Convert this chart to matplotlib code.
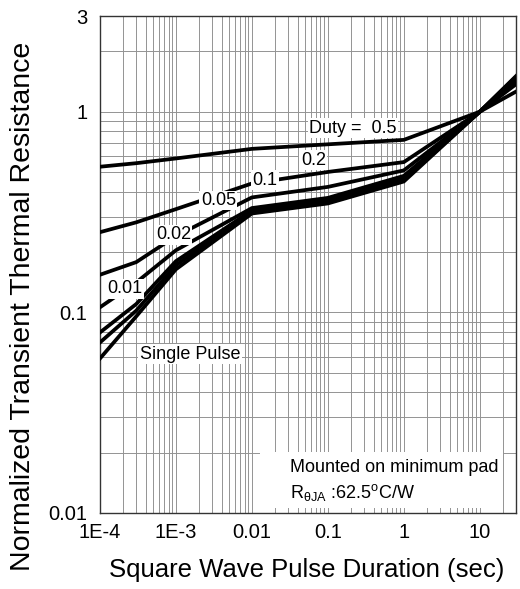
import matplotlib
matplotlib.use('Agg')
import matplotlib.pyplot as plt
from matplotlib.patches import Rectangle
from matplotlib.ticker import FixedLocator, LogLocator, NullFormatter, FixedFormatter

plt.rcParams['font.family'] = ['Liberation Sans', 'DejaVu Sans']
plt.rcParams['mathtext.fontset'] = 'custom'
plt.rcParams['mathtext.rm'] = 'Liberation Sans'
plt.rcParams['mathtext.it'] = 'Liberation Sans:italic'

# ---- data ----
pulse_sec = [1e-4, 3e-4, 1e-3, 1e-2, 1e-1, 1, 10, 30]
r_duty_05 = [0.532, 0.554, 0.585, 0.653, 0.688, 0.724, 1.0, 1.26]
r_duty_02 = [0.251, 0.281, 0.327, 0.439, 0.501, 0.561, 1.0, 1.37]
r_duty_01 = [0.154, 0.178, 0.240, 0.374, 0.422, 0.510, 1.0, 1.41]
r_duty_005 = [0.106, 0.141, 0.204, 0.331, 0.372, 0.479, 1.0, 1.445]
r_duty_002 = [0.0794, 0.110, 0.180, 0.322, 0.361, 0.465, 1.0, 1.47]
r_duty_001 = [0.0708, 0.102, 0.172, 0.316, 0.355, 0.457, 1.0, 1.49]
r_single = [0.0589, 0.0955, 0.164, 0.311, 0.349, 0.449, 1.0, 1.505]

x_tick_vals = [1e-4, 1e-3, 1e-2, 1e-1, 1, 10]
x_tick_labels = ['1E-4', '1E-3', '0.01', '0.1', '1', '10']
y_tick_vals = [0.01, 0.1, 1, 3]
y_tick_labels = ['0.01', '0.1', '1', '3']

curve_labels = ['Duty =  0.5', '0.2', '0.1', '0.05', '0.02', '0.01', 'Single Pulse']
label_x = [0.213, 0.0644, 0.0148, 3.62e-3, 9.27e-4, 2.13e-4, 1.53e-3]
label_y = [0.827, 0.572, 0.4545, 0.361, 0.244, 0.131, 0.0617]

# ---- figure ----
fig = plt.figure(figsize=(5.2, 5.89), dpi=100)
ax = fig.add_axes([100/520, 1-513/589, 416/520, 497/589])
ax.set_xscale('log')
ax.set_yscale('log')
ax.set_xlim(1e-4, 30)
ax.set_ylim(0.01, 3)

ax.xaxis.set_major_locator(FixedLocator(x_tick_vals))
ax.xaxis.set_major_formatter(FixedFormatter(x_tick_labels))
ax.xaxis.set_minor_locator(LogLocator(base=10, subs=[2, 3, 4, 5, 6, 7, 8, 9], numticks=50))
ax.xaxis.set_minor_formatter(NullFormatter())
ax.yaxis.set_major_locator(FixedLocator(y_tick_vals))
ax.yaxis.set_major_formatter(FixedFormatter(y_tick_labels))
ax.yaxis.set_minor_locator(LogLocator(base=10, subs=[2, 3, 4, 5, 6, 7, 8, 9], numticks=50))
ax.yaxis.set_minor_formatter(NullFormatter())

ax.tick_params(which='both', length=0, labelsize=14.5)
ax.tick_params(axis='y', pad=9)
ax.tick_params(axis='x', pad=7)
ax.set_axisbelow(True)
ax.grid(which='both', color='#939393', lw=0.7)
for s in ax.spines.values():
    s.set_color('#333333')
    s.set_linewidth(1.0)

for r in [r_duty_05, r_duty_02, r_duty_01, r_duty_005, r_duty_002, r_duty_001, r_single]:
    ax.plot(pulse_sec, r, color='black', lw=2.7, solid_joinstyle='miter', zorder=3)

for t, x, y in zip(curve_labels, label_x, label_y):
    ax.text(x, y, t, fontsize=13, ha='center', va='center', zorder=5,
            bbox=dict(facecolor='white', edgecolor='none', pad=1.0))

ax.add_patch(Rectangle((0.385, 0.01), 0.584, 0.113, transform=ax.transAxes,
                       facecolor='white', edgecolor='none', zorder=4))
ax.text(0.457, 0.083, 'Mounted on minimum pad', transform=ax.transAxes,
        fontsize=13, ha='left', va='baseline', zorder=5)
ax.text(0.457, 0.03, r'R$_{\mathregular{\theta JA}}$ :62.5$^{\mathregular{o}}$C/W',
        transform=ax.transAxes, fontsize=13, ha='left', va='baseline', zorder=5)

fig.text(0.044, 0.479, 'Normalized Transient Thermal Resistance', rotation=90,
         fontsize=20.5, ha='center', va='center')
fig.text(0.59, 0.032, 'Square Wave Pulse Duration (sec)', fontsize=18.5,
         ha='center', va='center')

fig.savefig('out.png', dpi=100)
